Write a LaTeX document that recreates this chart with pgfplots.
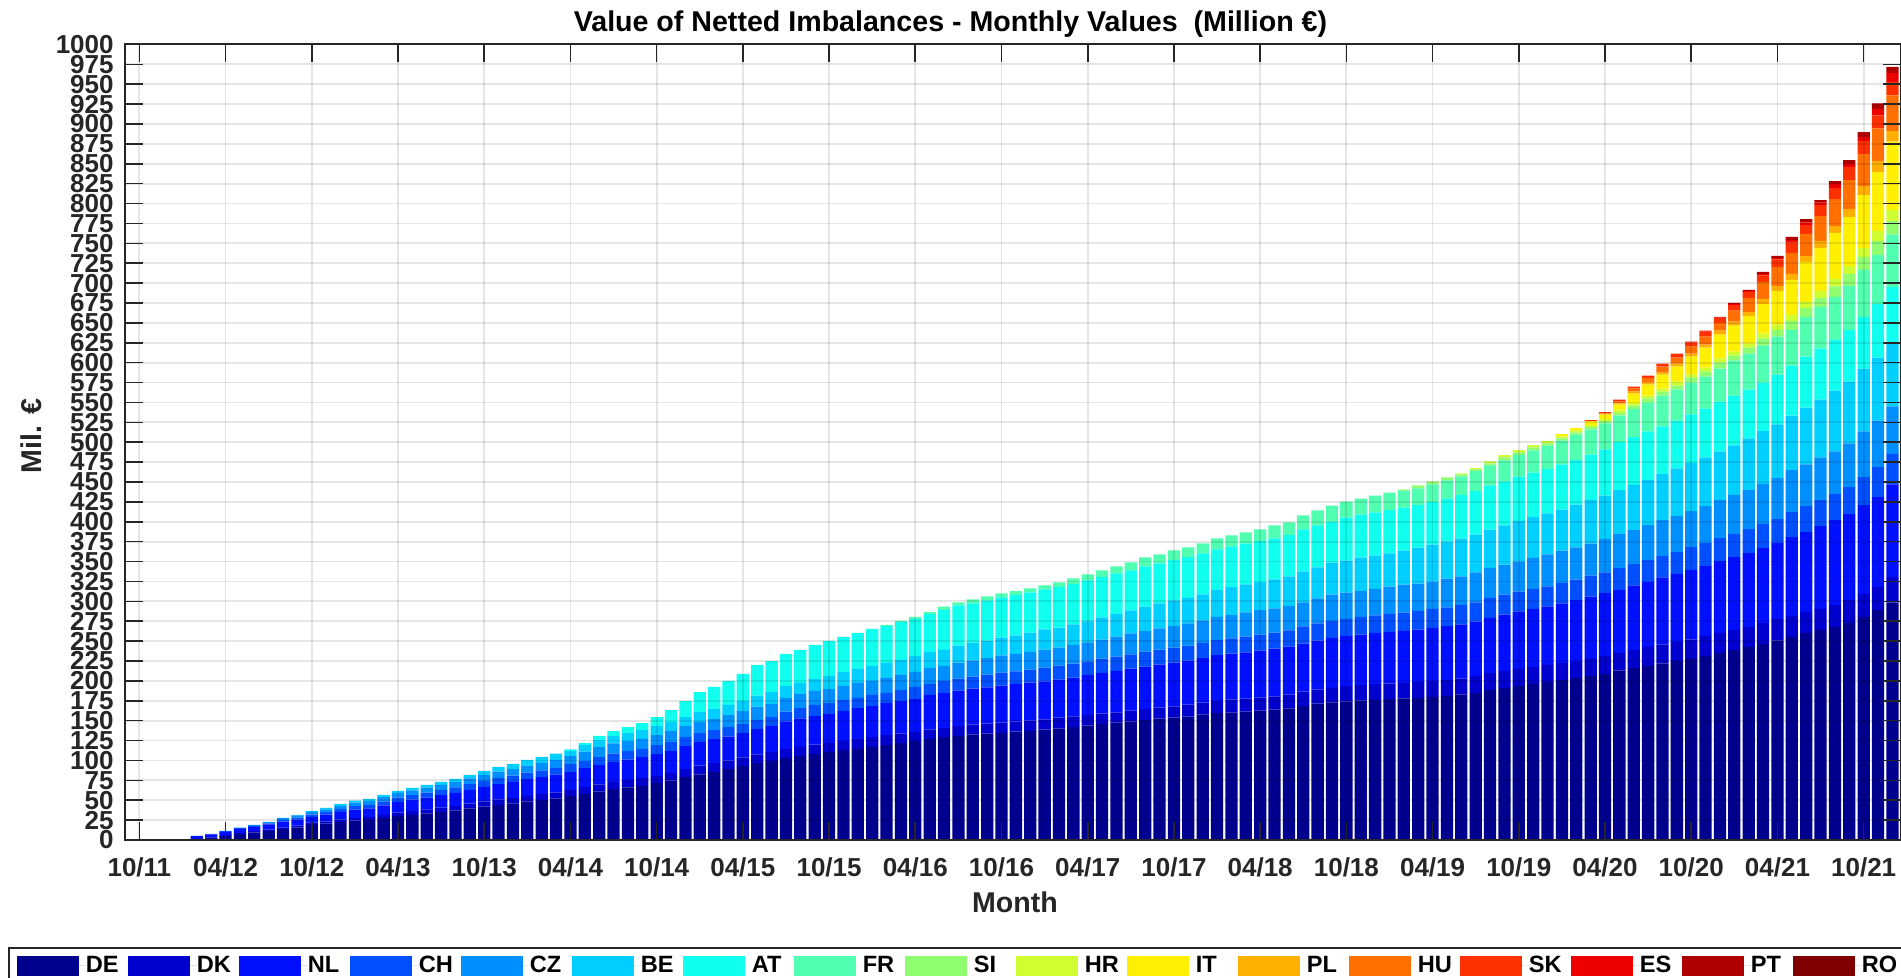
\documentclass[border=0pt]{standalone}
\usepackage{pgfplots}
\pgfplotsset{compat=1.18}
\usepackage{pgfplotstable}
\usepackage{fontspec}
\setmainfont{Liberation Sans}

\definecolor{axgray}{rgb}{0.15,0.15,0.15}
\definecolor{jDE}{rgb}{0,0,0.5625}
\definecolor{jDK}{rgb}{0,0,0.8125}
\definecolor{jNL}{rgb}{0,0.0625,1}
\definecolor{jCH}{rgb}{0,0.3125,1}
\definecolor{jCZ}{rgb}{0,0.5625,1}
\definecolor{jBE}{rgb}{0,0.8125,1}
\definecolor{jAT}{rgb}{0.0625,1,0.9375}
\definecolor{jFR}{rgb}{0.3125,1,0.6875}
\definecolor{jSI}{rgb}{0.5625,1,0.4375}
\definecolor{jHR}{rgb}{0.8125,1,0.1875}
\definecolor{jIT}{rgb}{1,0.9375,0}
\definecolor{jPL}{rgb}{1,0.6875,0}
\definecolor{jHU}{rgb}{1,0.4375,0}
\definecolor{jSK}{rgb}{1,0.1875,0}
\definecolor{jES}{rgb}{0.9375,0,0}
\definecolor{jPT}{rgb}{0.6875,0,0}
\definecolor{jRO}{rgb}{0.5,0,0}

\newcommand{\tickfont}{\fontsize{13}{13}\selectfont\bfseries}
\newcommand{\labfont}{\fontsize{14.3}{14.3}\selectfont\bfseries}
\newcommand{\legfont}{\fontsize{11.8}{12}\selectfont\bfseries}

\pgfplotsset{leg/.style={legend image code/.code={\fill[##1] (0pt,-5pt) rectangle (31pt,5pt); \path (0pt,0pt) -- (34.5pt,0pt);}}}

% cumulative tops of the stacked layers (Million EUR), month index 0 = 10/11
\pgfplotstableread{
x DE DK NL CH CZ BE AT FR SI HR IT PL HU SK ES PT RO
4 1.0 1.5 5.2 5.2 5.2 5.2 5.2 5.2 5.2 5.2 5.2 5.2 5.2 5.2 5.2 5.2 5.2
5 2.5 3.2 7.2 7.7 7.7 7.7 7.7 7.7 7.7 7.7 7.7 7.7 7.7 7.7 7.7 7.7 7.7
6 5.0 6.0 10.2 11.0 11.5 11.5 11.5 11.5 11.5 11.5 11.5 11.5 11.5 11.5 11.5 11.5 11.5
7 7.5 8.6 14.0 15.0 15.7 15.7 15.7 15.7 15.7 15.7 15.7 15.7 15.7 15.7 15.7 15.7 15.7
8 9.4 11.0 16.6 17.8 19.1 19.1 19.1 19.1 19.1 19.1 19.1 19.1 19.1 19.1 19.1 19.1 19.1
9 11.5 13.2 19.5 21.0 22.8 22.8 22.8 22.8 22.8 22.8 22.8 22.8 22.8 22.8 22.8 22.8 22.8
10 13.8 15.8 23.0 25.0 27.5 27.8 27.8 27.8 27.8 27.8 27.8 27.8 27.8 27.8 27.8 27.8 27.8
11 16.0 18.2 25.6 28.2 30.8 31.6 31.6 31.6 31.6 31.6 31.6 31.6 31.6 31.6 31.6 31.6 31.6
12 19.0 21.8 29.0 32.0 35.2 36.6 36.6 36.6 36.6 36.6 36.6 36.6 36.6 36.6 36.6 36.6 36.6
13 20.6 23.5 31.8 35.0 38.6 40.4 40.4 40.4 40.4 40.4 40.4 40.4 40.4 40.4 40.4 40.4 40.4
14 22.6 25.8 35.2 39.0 43.0 45.4 45.4 45.4 45.4 45.4 45.4 45.4 45.4 45.4 45.4 45.4 45.4
15 24.4 27.8 38.2 42.6 47.0 49.6 49.6 49.6 49.6 49.6 49.6 49.6 49.6 49.6 49.6 49.6 49.6
16 25.2 28.8 39.6 44.3 48.9 51.7 51.7 51.7 51.7 51.7 51.7 51.7 51.7 51.7 51.7 51.7 51.7
17 27.6 31.7 43.6 48.7 53.8 56.7 56.7 56.7 56.7 56.7 56.7 56.7 56.7 56.7 56.7 56.7 56.7
18 29.9 34.5 47.9 53.4 59.2 61.8 61.8 61.8 61.8 61.8 61.8 61.8 61.8 61.8 61.8 61.8 61.8
19 31.6 36.5 50.6 56.4 62.4 65.5 65.5 65.5 65.5 65.5 65.5 65.5 65.5 65.5 65.5 65.5 65.5
20 33.4 38.6 53.4 59.6 65.8 69.3 69.3 69.3 69.3 69.3 69.3 69.3 69.3 69.3 69.3 69.3 69.3
21 35.3 40.7 56.3 62.8 69.2 73.1 73.1 73.1 73.1 73.1 73.1 73.1 73.1 73.1 73.1 73.1 73.1
22 37.1 42.8 59.1 66.0 72.6 76.8 76.8 76.8 76.8 76.8 76.8 76.8 76.8 76.8 76.8 76.8 76.8
23 39.6 45.6 63.0 70.2 77.3 81.9 81.9 81.9 81.9 81.9 81.9 81.9 81.9 81.9 81.9 81.9 81.9
24 42.1 48.4 66.8 74.3 81.9 86.9 86.9 86.9 86.9 86.9 86.9 86.9 86.9 86.9 86.9 86.9 86.9
25 44.3 51.0 70.2 78.0 86.0 91.9 91.9 91.9 91.9 91.9 91.9 91.9 91.9 91.9 91.9 91.9 91.9
26 46.0 53.0 72.9 80.8 89.2 95.7 95.7 95.7 95.7 95.7 95.7 95.7 95.7 95.7 95.7 95.7 95.7
27 48.4 55.6 76.5 84.6 93.6 100.7 100.7 100.7 100.7 100.7 100.7 100.7 100.7 100.7 100.7 100.7 100.7
28 50.2 57.6 79.3 87.6 97.0 104.5 104.5 104.5 104.5 104.5 104.5 104.5 104.5 104.5 104.5 104.5 104.5
29 52.1 59.7 82.3 90.6 100.7 108.6 108.6 108.6 108.6 108.6 108.6 108.6 108.6 108.6 108.6 108.6 108.6
30 55.0 62.6 85.3 95.3 105.5 111.7 113.8 113.8 113.8 113.8 113.8 113.8 113.8 113.8 113.8 113.8 113.8
31 58.0 66.4 90.3 99.1 111.2 119.3 121.8 121.8 121.8 121.8 121.8 121.8 121.8 121.8 121.8 121.8 121.8
32 61.0 70.0 94.5 104.2 116.8 125.6 131.0 131.0 131.0 131.0 131.0 131.0 131.0 131.0 131.0 131.0 131.0
33 63.8 73.0 97.9 108.5 121.5 130.6 137.0 137.0 137.0 137.0 137.0 137.0 137.0 137.0 137.0 137.0 137.0
34 66.0 75.2 101.0 111.7 124.3 134.4 142.0 142.0 142.0 142.0 142.0 142.0 142.0 142.0 142.0 142.0 142.0
35 68.0 77.7 104.2 114.5 127.0 138.2 147.0 147.0 147.0 147.0 147.0 147.0 147.0 147.0 147.0 147.0 147.0
36 71.4 80.5 107.9 119.3 131.9 143.2 154.6 154.6 154.6 154.6 154.6 154.6 154.6 154.6 154.6 154.6 154.6
37 74.5 84.5 111.7 123.0 136.9 148.3 163.4 163.4 163.4 163.4 163.4 163.4 163.4 163.4 163.4 163.4 163.4
38 79.0 89.0 118.0 129.4 143.2 154.6 174.7 174.7 174.7 174.7 174.7 174.7 174.7 174.7 174.7 174.7 174.7
39 82.5 93.5 123.0 134.4 148.3 160.9 186.0 186.0 186.0 186.0 186.0 186.0 186.0 186.0 186.0 186.0 186.0
40 85.5 96.6 126.8 138.2 152.0 164.6 192.4 192.4 192.4 192.4 192.4 192.4 192.4 192.4 192.4 192.4 192.4
41 89.0 99.8 129.8 142.0 157.0 169.7 200.0 200.0 200.0 200.0 200.0 200.0 200.0 200.0 200.0 200.0 200.0
42 93.0 104.0 134.4 145.7 162.1 174.7 208.7 208.7 208.7 208.7 208.7 208.7 208.7 208.7 208.7 208.7 208.7
43 96.5 107.5 139.5 151.0 167.5 181.5 220.0 220.0 220.0 220.0 220.0 220.0 220.0 220.0 220.0 220.0 220.0
44 99.5 110.5 143.2 154.6 171.0 186.2 225.0 225.0 225.0 225.0 225.0 225.0 225.0 225.0 225.0 225.0 225.0
45 102.8 114.5 149.0 161.5 178.5 193.6 234.0 234.0 234.0 234.0 234.0 234.0 234.0 234.0 234.0 234.0 234.0
46 105.4 117.2 153.0 165.9 183.5 197.4 239.0 239.0 239.0 239.0 239.0 239.0 239.0 239.0 239.0 239.0 239.0
47 108.0 120.0 155.8 169.7 187.3 202.4 245.3 245.3 245.3 245.3 245.3 245.3 245.3 245.3 245.3 245.3 245.3
48 110.5 122.0 158.3 172.2 189.8 206.2 250.3 250.3 250.3 250.3 250.3 250.3 250.3 250.3 250.3 250.3 250.3
49 113.0 124.3 162.1 176.0 193.6 211.3 255.4 255.4 255.4 255.4 255.4 255.4 255.4 255.4 255.4 255.4 255.4
50 114.6 126.8 165.9 178.5 197.4 215.0 260.4 260.4 260.4 260.4 260.4 260.4 260.4 260.4 260.4 260.4 260.4
51 116.8 129.4 168.4 182.3 199.9 218.8 265.4 265.4 265.4 265.4 265.4 265.4 265.4 265.4 265.4 265.4 265.4
52 119.3 131.9 172.2 184.8 203.7 222.6 269.2 270.5 270.5 270.5 270.5 270.5 270.5 270.5 270.5 270.5 270.5
53 121.8 133.6 174.7 188.6 207.5 226.4 274.3 275.5 275.5 275.5 275.5 275.5 275.5 275.5 275.5 275.5 275.5
54 124.3 135.9 177.2 192.4 211.3 231.4 278.0 280.6 280.6 280.6 280.6 280.6 280.6 280.6 280.6 280.6 280.6
55 126.8 139.0 182.3 196.1 216.3 236.5 284.3 286.9 286.9 286.9 286.9 286.9 286.9 286.9 286.9 286.9 286.9
56 129.4 140.7 184.8 199.9 218.8 239.0 289.4 293.2 293.2 293.2 293.2 293.2 293.2 293.2 293.2 293.2 293.2
57 131.0 143.0 187.7 202.9 223.0 244.4 294.8 298.6 298.6 298.6 298.6 298.6 298.6 298.6 298.6 298.6 298.6
58 132.5 144.9 190.3 205.4 225.5 248.2 297.4 302.4 302.4 302.4 302.4 302.4 302.4 302.4 302.4 302.4 302.4
59 133.6 146.2 191.8 207.9 228.5 250.7 301.1 306.2 306.2 306.2 306.2 306.2 306.2 306.2 306.2 306.2 306.2
60 134.8 147.6 194.0 210.4 231.8 254.5 304.9 310.0 310.0 310.0 310.0 310.0 310.0 310.0 310.0 310.0 310.0
61 136.1 148.7 196.2 212.0 234.0 257.3 307.9 312.8 312.8 312.8 312.8 312.8 312.8 312.8 312.8 312.8 312.8
62 137.3 149.9 197.8 214.2 236.4 260.8 311.2 316.3 316.3 316.3 316.3 316.3 316.3 316.3 316.3 316.3 316.3
63 138.6 151.5 199.5 216.7 239.4 264.6 315.0 320.0 320.0 320.0 320.0 320.0 320.0 320.0 320.0 320.0 320.0
64 140.0 153.7 201.6 219.2 241.9 267.1 317.8 323.8 323.8 323.8 323.8 323.8 323.8 323.8 323.8 323.8 323.8
65 142.2 155.4 204.1 221.8 245.3 270.9 321.8 328.9 328.9 328.9 328.9 328.9 328.9 328.9 328.9 328.9 328.9
66 143.8 157.3 207.6 224.6 248.5 274.7 326.3 333.9 333.9 333.9 333.9 333.9 333.9 333.9 333.9 333.9 333.9
67 145.9 158.8 210.0 228.0 252.0 279.7 330.5 338.9 338.9 338.9 338.9 338.9 338.9 338.9 338.9 338.9 338.9
68 147.4 160.5 212.5 230.6 255.8 283.8 335.2 344.0 344.0 344.0 344.0 344.0 344.0 344.0 344.0 344.0 344.0
69 148.9 162.5 215.5 233.4 259.6 288.5 339.0 349.0 349.0 349.0 349.0 349.0 349.0 349.0 349.0 349.0 349.0
70 151.0 164.8 218.0 236.9 262.4 293.3 344.0 355.3 355.3 355.3 355.3 355.3 355.3 355.3 355.3 355.3 355.3
71 152.5 166.3 220.5 239.4 265.9 297.4 347.8 359.1 359.1 359.1 359.1 359.1 359.1 359.1 359.1 359.1 359.1
72 153.7 167.9 223.0 241.9 268.9 301.1 351.7 364.1 364.1 364.1 364.1 364.1 364.1 364.1 364.1 364.1 364.1
73 155.2 170.1 225.5 244.4 272.2 304.5 355.5 367.9 367.9 367.9 367.9 367.9 367.9 367.9 367.9 367.9 367.9
74 157.5 172.6 228.5 247.5 275.9 308.7 360.4 373.0 373.0 373.0 373.0 373.0 373.0 373.0 373.0 373.0 373.0
75 159.4 174.8 232.5 251.5 280.5 314.5 365.4 379.3 379.3 379.3 379.3 379.3 379.3 379.3 379.3 379.3 379.3
76 160.2 176.4 234.4 253.5 282.8 317.8 369.2 383.0 383.0 383.0 383.0 383.0 383.0 383.0 383.0 383.0 383.0
77 161.3 177.7 236.0 255.8 286.0 321.3 373.0 386.8 386.8 386.8 386.8 386.8 386.8 386.8 386.8 386.8 386.8
78 162.5 178.9 238.1 258.3 288.8 324.3 375.8 390.6 390.6 390.6 390.6 390.6 390.6 390.6 390.6 390.6 390.6
79 163.8 180.4 240.7 260.8 291.2 327.6 379.3 395.6 395.6 395.6 395.6 395.6 395.6 395.6 395.6 395.6 395.6
80 165.4 182.7 243.2 263.6 294.2 331.4 383.6 399.4 399.4 399.4 399.4 399.4 399.4 399.4 399.4 399.4 399.4
81 168.6 186.5 247.0 268.4 298.8 337.7 390.6 408.2 408.2 408.2 408.2 408.2 408.2 408.2 408.2 408.2 408.2
82 171.4 189.0 250.7 272.2 303.7 342.7 395.6 414.5 414.5 414.5 414.5 414.5 414.5 414.5 414.5 414.5 414.5
83 173.0 191.1 254.1 275.5 308.3 348.6 400.3 420.4 420.4 420.4 420.4 420.4 420.4 420.4 420.4 420.4 420.4
84 174.3 193.3 256.6 278.0 310.8 351.1 405.3 425.5 425.5 425.5 425.5 425.5 425.5 425.5 425.5 425.5 425.5
85 175.2 194.9 258.2 280.6 313.3 354.9 409.1 429.2 429.2 429.2 429.2 429.2 429.2 429.2 429.2 429.2 429.2
86 176.0 195.8 260.4 282.2 315.8 357.4 411.9 433.0 433.0 433.0 433.0 433.0 433.0 433.0 433.0 433.0 433.0
87 177.2 196.6 261.7 284.3 318.4 360.2 414.6 436.8 436.8 436.8 436.8 436.8 436.8 436.8 436.8 436.8 436.8
88 178.0 197.4 262.9 285.8 320.9 363.7 417.9 439.3 440.8 440.8 440.8 440.8 440.8 440.8 440.8 440.8 440.8
89 178.8 198.7 264.4 288.1 322.3 367.5 420.9 441.9 445.8 445.8 445.8 445.8 445.8 445.8 445.8 445.8 445.8
90 179.8 199.9 266.7 290.4 324.9 371.3 424.6 446.9 450.9 450.9 450.9 450.9 450.9 450.9 450.9 450.9 450.9
91 181.0 201.2 268.9 292.4 328.4 375.0 429.2 452.2 455.9 455.9 455.9 455.9 455.9 455.9 455.9 455.9 455.9
92 182.6 202.9 271.0 295.7 331.4 378.8 433.4 457.2 459.6 460.9 460.9 460.9 460.9 460.9 460.9 460.9 460.9
93 185.0 206.2 274.6 298.6 336.3 383.9 438.4 463.6 466.0 467.6 467.6 467.6 467.6 467.6 467.6 467.6 467.6
94 188.4 209.8 279.3 304.2 342.0 390.2 445.4 470.8 473.3 476.0 476.0 476.0 476.0 476.0 476.0 476.0 476.0
95 191.1 212.5 283.3 308.3 346.3 395.4 450.9 477.1 480.9 483.7 483.7 483.7 483.7 483.7 483.7 483.7 483.7
96 193.6 215.0 287.3 312.2 350.3 401.2 456.8 484.2 487.4 490.0 490.0 490.0 490.0 490.0 490.0 490.0 490.0
97 196.1 217.6 290.6 315.8 354.6 406.2 461.7 489.9 493.6 496.4 496.4 496.4 496.4 496.4 496.4 496.4 496.4
98 198.7 220.1 293.8 318.8 358.9 410.6 466.2 495.6 498.6 501.4 501.4 501.4 501.4 501.4 501.4 501.4 501.4
99 201.2 222.6 297.4 323.2 363.7 415.4 472.1 502.1 504.8 507.4 510.1 510.1 510.1 510.1 510.1 510.1 510.1
100 203.7 225.1 301.7 327.4 367.8 421.5 477.6 509.6 512.4 514.9 517.6 517.6 517.6 517.6 517.6 517.6 517.6
101 206.2 227.8 305.8 332.2 372.5 427.6 484.5 516.2 518.9 521.4 526.3 526.6 527.0 527.7 527.7 527.7 527.7
102 208.9 231.4 310.6 336.5 378.6 433.0 491.0 523.8 526.6 529.2 534.8 535.6 536.4 537.8 537.8 537.8 537.8
103 212.8 235.3 314.3 341.9 384.6 439.7 500.0 533.6 536.9 541.1 547.4 548.7 551.2 553.7 553.7 553.7 553.7
104 216.0 239.1 320.0 346.9 389.6 446.5 506.4 541.9 546.1 549.5 561.2 563.7 567.5 570.0 570.0 570.0 570.0
105 219.0 242.9 324.4 352.0 395.8 452.3 513.5 549.9 554.9 558.7 572.5 575.0 580.8 583.8 583.8 583.8 583.8
106 222.0 246.0 330.0 357.0 402.1 459.8 519.8 558.7 563.7 567.5 585.0 587.5 595.0 598.8 598.8 598.8 598.8
107 224.8 249.1 334.4 362.0 407.1 467.3 527.3 566.2 571.2 576.2 595.0 598.8 606.3 611.3 611.3 611.3 611.3
108 227.8 252.0 339.4 368.3 413.4 473.6 534.9 575.0 581.2 585.0 607.6 611.3 620.1 625.5 626.4 626.4 626.4
109 231.6 256.7 344.4 373.3 419.7 481.1 542.4 582.5 588.8 593.8 618.9 622.6 632.7 639.0 640.2 640.2 640.2
110 235.3 260.4 350.7 379.5 427.2 488.6 551.1 592.5 600.1 605.1 635.2 640.2 650.2 656.3 657.0 657.7 657.7
111 239.1 264.2 355.7 384.6 433.5 496.2 558.7 602.6 608.8 613.9 646.5 651.5 665.3 672.5 673.8 675.3 675.3
112 242.9 267.9 360.7 390.8 439.7 505.0 566.2 611.3 618.9 623.9 659.0 664.0 681.6 689.1 690.2 691.6 691.6
113 246.6 273.0 367.0 397.1 447.3 514.0 575.0 621.4 630.2 636.4 674.0 680.3 701.6 709.5 711.5 714.2 714.2
114 251.0 277.5 373.3 403.4 454.8 522.3 585.0 632.7 641.4 647.7 690.3 696.6 720.4 729.8 731.7 734.2 734.2
115 255.4 281.7 380.8 412.1 464.8 533.6 596.3 641.4 652.7 660.2 704.1 711.6 737.9 751.0 754.3 758.0 758.0
116 260.4 286.7 387.1 419.7 472.3 543.6 607.6 657.7 669.0 676.5 726.7 734.2 761.8 773.0 776.5 780.6 780.6
117 264.2 290.5 394.6 427.2 481.1 553.7 617.6 670.3 681.6 690.3 744.2 753.0 784.4 798.2 801.1 804.5 804.5
118 267.9 295.5 402.1 434.7 488.6 564.9 628.9 682.8 695.8 705.4 763.1 771.9 805.7 819.5 824.5 828.3 828.3
119 273.0 301.8 409.6 443.5 498.7 576.2 641.4 696.6 711.6 721.7 783.1 793.2 829.5 845.9 849.6 854.6 854.6
120 280.5 309.3 420.9 456.0 513.5 592.5 657.7 716.7 732.9 744.2 810.7 822.0 862.1 878.4 883.5 889.7 889.7
121 289.3 318.1 431.0 468.6 527.3 606.3 674.0 735.5 753.0 765.6 839.5 853.3 894.7 911.0 918.6 926.1 926.1
122 298.5 330.6 446.9 485.3 545.0 624.0 695.0 761.0 778.0 792.0 878.0 891.0 936.0 953.0 964.0 972.0 972.0
}\cum

\begin{document}
\begin{tikzpicture}
\path[use as bounding box] (0,0) rectangle (950.5pt,489pt);
\begin{axis}[
  at={(62.5pt,69pt)}, anchor=south west,
  scale only axis, width=888pt, height=397.75pt,
  ybar stacked, bar width=0.855,
  xmin=-1, xmax=122.6, ymin=0, ymax=1000,
  enlargelimits=false,
  xtick={0,6,...,120},
  xticklabels={10/11,04/12,10/12,04/13,10/13,04/14,10/14,04/15,10/15,04/16,10/16,04/17,10/17,04/18,10/18,04/19,10/19,04/20,10/20,04/21,10/21},
  ytick={0,25,...,1000},
  scaled y ticks=false,
  /pgf/number format/1000 sep={},
  /pgf/number format/assume math mode=true,
  tick align=inside, xtick pos=both, ytick pos=both,
  major tick length=9pt,
  tick style={axgray, line width=0.8pt},
  axis line style={axgray, line width=1pt},
  grid=major,
  major grid style={black, opacity=0.1, line width=0.9pt},
  axis on top,
  ticklabel style={font=\tickfont, text=axgray},
  yticklabel style={anchor=east, inner sep=0pt, xshift=-5.5pt},
  xticklabel style={anchor=north, inner sep=0pt, yshift=-8.5pt},
  title={Value of Netted Imbalances - Monthly Values\ \ (Million €)},
  title style={at={(axis description cs:0.4648,1.01659)}, anchor=base, yshift=-6pt, font=\labfont, text=black},
  xlabel={Month},
  xlabel style={at={(axis description cs:0.5011,-0.09177)}, anchor=base, font=\labfont, text=axgray},
  ylabel={Mil. €},
  ylabel style={at={(axis description cs:-0.0529,0.5079)}, anchor=center, font=\labfont, text=axgray},
  legend columns=17,
  legend cell align=left,
  legend style={at={(axis description cs:-0.06588,-0.13451)}, anchor=north west,
    draw=axgray, line width=0.8pt, fill=white,
    inner xsep=4pt, inner ysep=4pt, column sep=0pt, row sep=0pt,
    font=\legfont,
    nodes={inner sep=0pt, text width=21pt, align=left, anchor=west, text=black}},
]
\addplot[fill=jDE, draw=none, leg] table[x=x, y=DE] {\cum};
\addplot[fill=jDK, draw=none, leg] table[x=x, y expr=\thisrow{DK}-\thisrow{DE}] {\cum};
\addplot[fill=jNL, draw=none, leg] table[x=x, y expr=\thisrow{NL}-\thisrow{DK}] {\cum};
\addplot[fill=jCH, draw=none, leg] table[x=x, y expr=\thisrow{CH}-\thisrow{NL}] {\cum};
\addplot[fill=jCZ, draw=none, leg] table[x=x, y expr=\thisrow{CZ}-\thisrow{CH}] {\cum};
\addplot[fill=jBE, draw=none, leg] table[x=x, y expr=\thisrow{BE}-\thisrow{CZ}] {\cum};
\addplot[fill=jAT, draw=none, leg] table[x=x, y expr=\thisrow{AT}-\thisrow{BE}] {\cum};
\addplot[fill=jFR, draw=none, leg] table[x=x, y expr=\thisrow{FR}-\thisrow{AT}] {\cum};
\addplot[fill=jSI, draw=none, leg] table[x=x, y expr=\thisrow{SI}-\thisrow{FR}] {\cum};
\addplot[fill=jHR, draw=none, leg] table[x=x, y expr=\thisrow{HR}-\thisrow{SI}] {\cum};
\addplot[fill=jIT, draw=none, leg] table[x=x, y expr=\thisrow{IT}-\thisrow{HR}] {\cum};
\addplot[fill=jPL, draw=none, leg] table[x=x, y expr=\thisrow{PL}-\thisrow{IT}] {\cum};
\addplot[fill=jHU, draw=none, leg] table[x=x, y expr=\thisrow{HU}-\thisrow{PL}] {\cum};
\addplot[fill=jSK, draw=none, leg] table[x=x, y expr=\thisrow{SK}-\thisrow{HU}] {\cum};
\addplot[fill=jES, draw=none, leg] table[x=x, y expr=\thisrow{ES}-\thisrow{SK}] {\cum};
\addplot[fill=jPT, draw=none, leg] table[x=x, y expr=\thisrow{PT}-\thisrow{ES}] {\cum};
\addplot[fill=jRO, draw=none, leg] table[x=x, y expr=\thisrow{RO}-\thisrow{PT}] {\cum};
\legend{DE,DK,NL,CH,CZ,BE,AT,FR,SI,HR,IT,PL,HU,SK,ES,PT,RO}
\end{axis}
\end{tikzpicture}
\end{document}
